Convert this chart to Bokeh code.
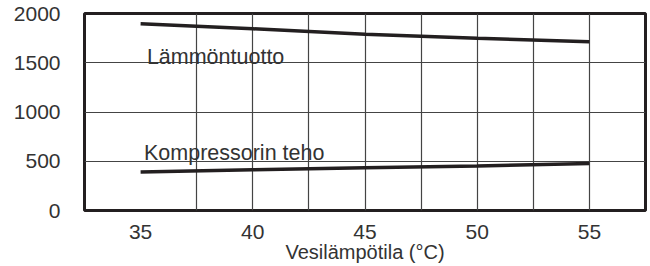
from bokeh.plotting import figure
from bokeh.models import FixedTicker, Label, Range1d
from bokeh.embed import file_html
from bokeh.resources import INLINE

# Data
temps = [35, 40, 45, 50, 55]
heat_output = [1895, 1845, 1790, 1748, 1712]
compressor_power = [392, 413, 433, 453, 477]

x_ticks = [35, 40, 45, 50, 55]
y_ticks = [0, 500, 1000, 1500, 2000]
x_grid = [37.5, 40, 42.5, 45, 47.5, 50, 52.5, 55]
y_grid = [500, 1000, 1500]

series_labels = ["Lämmöntuotto", "Kompressorin teho"]
x_title = "Vesilämpötila (°C)"

FONT = "Liberation Sans"
TXT = "#333333"
INK = "#231f20"

p = figure(width=650, height=266, x_range=Range1d(32.5, 57.5), y_range=Range1d(0, 2000),
           output_backend="svg", toolbar_location=None,
           min_border_left=84, min_border_right=5, min_border_top=13, min_border_bottom=56)

p.outline_line_color = INK
p.outline_line_width = 3
p.background_fill_color = "white"
p.border_fill_color = "white"

p.xgrid.ticker = FixedTicker(ticks=x_grid)
p.ygrid.ticker = FixedTicker(ticks=y_grid)
for g in (p.xgrid, p.ygrid):
    g.grid_line_color = "#444444"
    g.grid_line_width = 1.2

p.xaxis.ticker = FixedTicker(ticks=x_ticks)
p.yaxis.ticker = FixedTicker(ticks=y_ticks)
for ax in (p.xaxis, p.yaxis):
    ax.axis_line_color = None
    ax.major_tick_line_color = None
    ax.minor_tick_line_color = None
    ax.major_tick_out = 0
    ax.major_tick_in = 0
    ax.major_label_text_font = FONT
    ax.major_label_text_color = TXT
    ax.major_label_text_font_size = "21px"

p.yaxis.major_label_standoff = 24
p.xaxis.major_label_standoff = 14
p.xaxis.axis_label = x_title
p.xaxis.axis_label_text_font = FONT
p.xaxis.axis_label_text_font_style = "normal"
p.xaxis.axis_label_text_font_size = "20px"
p.xaxis.axis_label_text_color = TXT
p.xaxis.axis_label_standoff = -1

p.line(temps, heat_output, line_color=INK, line_width=3.5)
p.line(temps, compressor_power, line_color=INK, line_width=3.5)

p.add_layout(Label(x=35.28, y=1555, text=series_labels[0], text_font=FONT,
                   text_font_size="21.5px", text_color=TXT, text_baseline="alphabetic"))
p.add_layout(Label(x=35.15, y=586, text=series_labels[1], text_font=FONT,
                   text_font_size="21.5px", text_color=TXT, text_baseline="alphabetic"))

open("out.html", "w").write(file_html(p, INLINE))
